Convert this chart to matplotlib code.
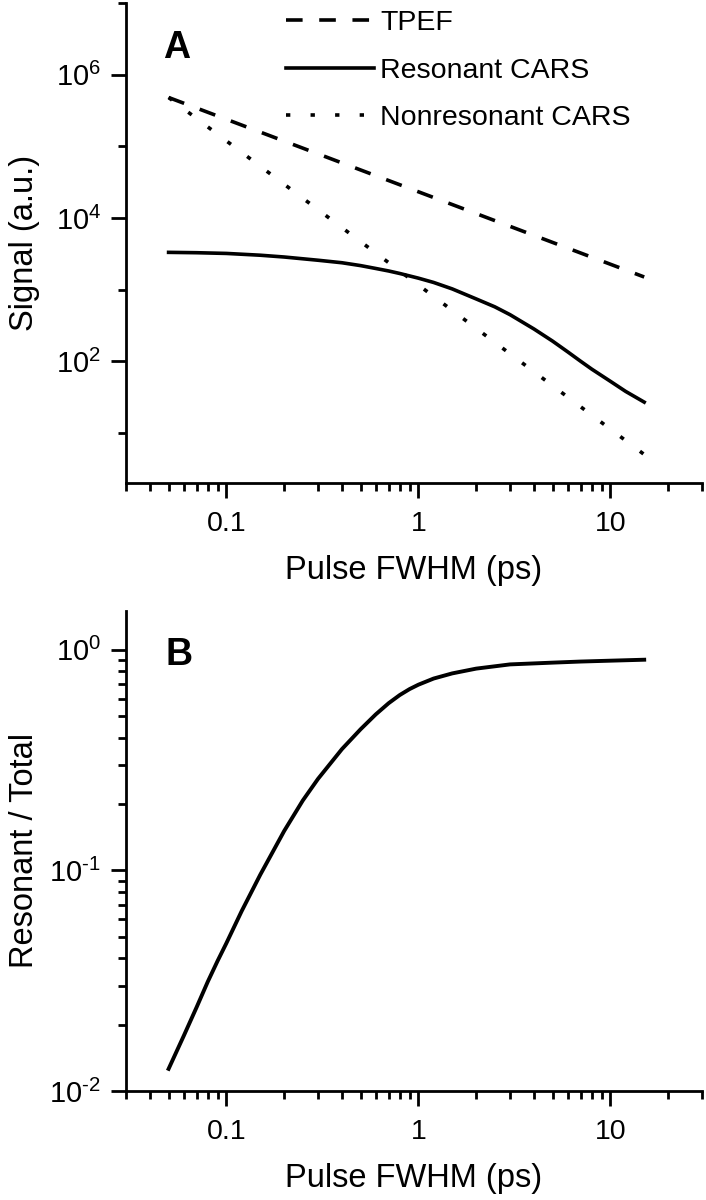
import numpy as np
import matplotlib
matplotlib.use("Agg")
import matplotlib.pyplot as plt
from matplotlib.ticker import FixedLocator, NullFormatter, LogLocator, FuncFormatter

plt.rcParams['font.family'] = ['Liberation Sans', 'DejaVu Sans']
plt.rcParams['mathtext.fontset'] = 'custom'
plt.rcParams['mathtext.rm'] = 'Liberation Sans'
plt.rcParams['mathtext.it'] = 'Liberation Sans:italic'
plt.rcParams['mathtext.bf'] = 'Liberation Sans:bold'

# panel A: signal vs pulse width
tpef_x = [0.05, 15]
tpef_y = [4.8e5, 1.5e3]
nonres_x = [0.05, 15]
nonres_y = [4.8e5, 5.0]
res_x = [0.05, 0.07, 0.1, 0.15, 0.2, 0.3, 0.4, 0.5, 0.6, 0.7, 0.8, 1, 1.2, 1.5,
         2, 2.5, 3, 4, 5, 6, 7, 8, 10, 12, 15]
res_y = [3311, 3273, 3199, 3020, 2851, 2570, 2371, 2163, 1972, 1820, 1679, 1445,
         1259, 1023, 741, 575, 447, 282, 191, 135, 100, 77.6, 52.5, 38, 26.9]

# panel B: resonant fraction
ratio_x = [0.05, 0.06, 0.07, 0.08, 0.09, 0.1, 0.12, 0.15, 0.2, 0.25, 0.3, 0.4,
           0.5, 0.6, 0.7, 0.8, 0.9, 1, 1.2, 1.5, 2, 3, 5, 7, 10, 15]
ratio_y = [0.0126, 0.0178, 0.0240, 0.0313, 0.0389, 0.0468, 0.0653, 0.0955,
           0.151, 0.2075, 0.260, 0.355, 0.4365, 0.510, 0.573, 0.624, 0.664,
           0.695, 0.741, 0.782, 0.822, 0.859, 0.875, 0.885, 0.893, 0.902]

W, H = 706, 1200
fig = plt.figure(figsize=(W / 100, H / 100), dpi=100)
axA = fig.add_axes([126 / W, 1 - 483 / H, 576 / W, 480 / H])
axB = fig.add_axes([126 / W, 1 - 1091 / H, 576 / W, 480 / H])


def pow_fmt(v, pos):
    e = int(round(np.log10(v)))
    if e < 0:
        return r'$10^{\text{-}%d}$' % (-e)
    return r'$10^{%d}$' % e


def style(ax):
    ax.set_xscale('log')
    ax.set_yscale('log')
    ax.set_xlim(0.03, 30)
    ax.set_facecolor('white')
    for s in ['top', 'right']:
        ax.spines[s].set_visible(False)
    for s in ['left', 'bottom']:
        ax.spines[s].set_linewidth(2.0)
    ax.tick_params(which='major', length=11, width=2.0, direction='out')
    ax.tick_params(which='minor', length=5.5, width=2.0, direction='out')
    ax.tick_params(axis='x', labelsize=20.5, pad=9)
    ax.tick_params(axis='y', labelsize=21, pad=7)
    ax.xaxis.set_major_locator(FixedLocator([0.1, 1, 10]))
    ax.xaxis.set_major_formatter(FuncFormatter(lambda v, p: '%g' % v))
    ax.xaxis.set_minor_locator(LogLocator(base=10, subs=np.arange(2, 10), numticks=20))
    ax.xaxis.set_minor_formatter(NullFormatter())
    ax.set_xlabel('Pulse FWHM (ps)', fontsize=23.5)
    ax.xaxis.set_label_coords(0.5, -0.15)


style(axA)
axA.set_ylim(2, 1e7)
axA.yaxis.set_major_locator(FixedLocator([1e2, 1e4, 1e6]))
axA.yaxis.set_minor_locator(FixedLocator([1e1, 1e3, 1e5, 1e7]))
axA.yaxis.set_major_formatter(FuncFormatter(pow_fmt))
axA.yaxis.set_minor_formatter(NullFormatter())
axA.set_ylabel('Signal (a.u.)', fontsize=23.5)
axA.yaxis.set_label_coords(-0.15, 0.5)

lw = 2.6
axA.plot(tpef_x, tpef_y, color='black', lw=lw, dashes=(4.6, 4.6), label='TPEF')
axA.plot(res_x, res_y, color='black', lw=lw, label='Resonant CARS')
axA.plot(nonres_x, nonres_y, color='black', lw=lw, dashes=(1.2, 5.6),
         dash_capstyle='butt', label='Nonresonant CARS')
axA.legend(loc='upper left', bbox_to_anchor=(0.278, 0.985), frameon=False,
           fontsize=20.5, handlelength=3.1, handletextpad=0.2,
           labelspacing=0.75, borderpad=0, borderaxespad=0)
axA.text(0.064, 0.885, 'A', transform=axA.transAxes, fontsize=27,
         fontweight='bold', va='baseline', ha='left')

style(axB)
axB.set_ylim(0.01, 1.5)
axB.yaxis.set_major_locator(FixedLocator([1e-2, 1e-1, 1e0]))
axB.yaxis.set_minor_locator(LogLocator(base=10, subs=np.arange(2, 10), numticks=20))
axB.yaxis.set_major_formatter(FuncFormatter(pow_fmt))
axB.yaxis.set_minor_formatter(NullFormatter())
axB.set_ylabel('Resonant / Total', fontsize=23.5)
axB.yaxis.set_label_coords(-0.15, 0.5)
axB.plot(ratio_x, ratio_y, color='black', lw=2.8)
axB.text(0.068, 0.8875, 'B', transform=axB.transAxes, fontsize=27,
         fontweight='bold', va='baseline', ha='left')

fig.savefig('out.png', dpi=100, facecolor='white')
